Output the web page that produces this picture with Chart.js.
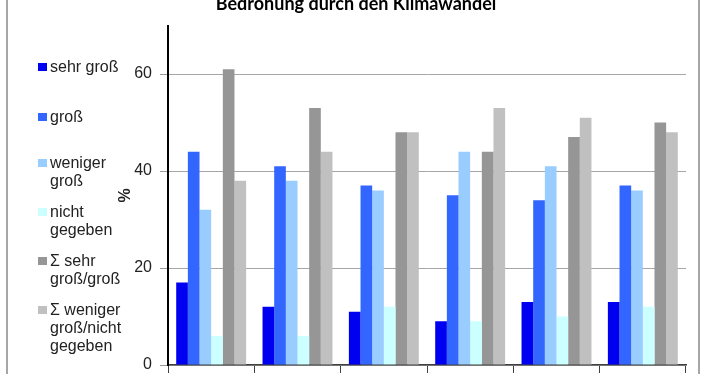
<!DOCTYPE html>
<html>
<head>
<meta charset="utf-8">
<script src="https://cdn.jsdelivr.net/npm/chart.js@4/dist/chart.umd.min.js"></script>
<style>
  body { margin: 0; background: #fff; overflow: hidden; width: 712px; height: 374px; position: relative; }
  #wrap { position: absolute; left: 0; top: -10px; width: 712px; height: 420px; }
  #rahmen { position: absolute; left: 6px; top: -5px; width: 690px; height: 390px;
            border-left: 2px solid #a6a6a6; border-right: 2px solid #a6a6a6; pointer-events: none; }
  #legende { position: absolute; left: 0; top: 0; margin: 0; padding: 0; list-style: none;
             font-family: 'Liberation Sans', Arial, sans-serif; font-size: 16px; line-height: 18px; color: #222; }
  #legende li { position: absolute; left: 50px; white-space: nowrap; }
  #legende .box { position: absolute; left: -12px; top: 5px; width: 9px; height: 8px; }
</style>
</head>
<body>
<div id="wrap"><canvas id="grafik" width="712" height="420"></canvas></div>
<div id="rahmen"></div>
<ul id="legende"></ul>
<script>
// Daten
var titel = "Bedrohung durch den Klimawandel";
var kategorien = ["1", "2", "3", "4", "5", "6"]; // Achsenbeschriftung im Bild abgeschnitten
var sehrGross = [17, 12, 11, 9, 13, 13];
var gross = [44, 41, 37, 35, 34, 37];
var wenigerGross = [32, 38, 36, 44, 41, 36];
var nichtGegeben = [6, 6, 12, 9, 10, 12];
var summeSehrGross = [61, 53, 48, 44, 47, 50];
var summeWeniger = [38, 44, 48, 53, 51, 48];
var yTicks = [0, 20, 40, 60];

var serienNamen = ["sehr groß", "groß", "weniger\ngroß", "nicht\ngegeben", "Σ sehr\ngroß/groß", "Σ weniger\ngroß/nicht\ngegeben"];
var serienFarben = ["#0000f0", "#3366ff", "#99ccff", "#ccffff", "#969696", "#c0c0c0"];
var serienWerte = [sehrGross, gross, wenigerGross, nichtGegeben, summeSehrGross, summeWeniger];

var datasets = [];
for (let i = 0; i < serienNamen.length; i++) {
  datasets.push({
    label: serienNamen[i],
    data: serienWerte[i],
    backgroundColor: serienFarben[i],
    borderWidth: 0,
    categoryPercentage: 0.81,
    barPercentage: 1.0
  });
}

Chart.defaults.font.family = "'Liberation Sans', Arial, sans-serif";
Chart.defaults.font.size = 16;
Chart.defaults.color = "#222";

var ctx = document.getElementById("grafik").getContext("2d");
var grafik = new Chart(ctx, {
  type: "bar",
  data: { labels: kategorien, datasets: datasets },
  options: {
    responsive: false,
    animation: false,
    // links und rechts gleich, damit der Titel mittig sitzt
    layout: { padding: { left: 26, right: 26, top: 0, bottom: 5 } },
    plugins: {
      legend: { display: false },
      tooltip: { enabled: false },
      title: {
        display: true,
        text: titel,
        color: "#000",
        font: { family: "Lato, sans-serif", size: 18, weight: "bold" },
        padding: { top: 3, bottom: 11 }
      }
    },
    scales: {
      x: {
        ticks: { display: false },
        grid: { display: true, drawOnChartArea: false, drawTicks: true, tickLength: 8, tickColor: "#404040", offset: true },
        border: { color: "#404040", width: 1.5 },
        afterFit: function (scale) { scale.height = 40; }
      },
      y: {
        min: 0,
        max: 70,
        ticks: { stepSize: 20, padding: 8, color: "#222" },
        afterBuildTicks: function (scale) {
          scale.ticks = yTicks.map(function (v) { return { value: v }; });
        },
        grid: { color: "#a6a6a6", tickColor: "#999", tickLength: 8 },
        border: { color: "#000", width: 2 },
        title: { display: true, text: "%", font: { size: 16, weight: "bold" }, color: "#222", padding: { top: 90, bottom: 0 } },
        afterFit: function (scale) { scale.width = 142; }
      }
    }
  }
});

// Legende links als HTML, mehrzeilig wie im Original
var legendeTops = [58, 108, 154, 203, 252, 301];
var ul = document.getElementById("legende");
for (let i = 0; i < serienNamen.length; i++) {
  let li = document.createElement("li");
  li.style.top = legendeTops[i] + "px";
  let box = document.createElement("span");
  box.className = "box";
  box.style.background = serienFarben[i];
  li.appendChild(box);
  let zeilen = serienNamen[i].split("\n");
  for (let z = 0; z < zeilen.length; z++) {
    if (z > 0) li.appendChild(document.createElement("br"));
    li.appendChild(document.createTextNode(zeilen[z]));
  }
  ul.appendChild(li);
}
</script>
</body>
</html>
